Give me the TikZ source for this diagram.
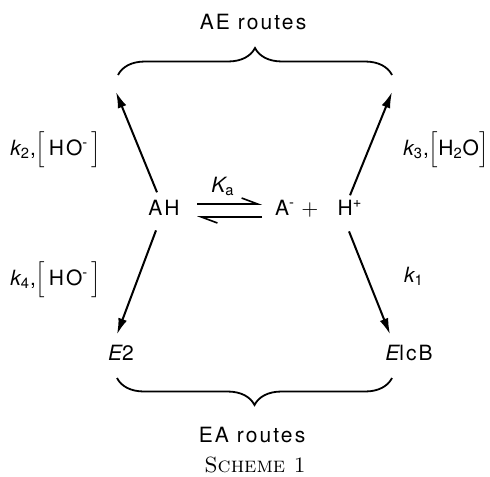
\documentclass[tikz,border=0pt]{standalone}
\usepackage{fontspec}
\newfontfamily\labelfont[LetterSpace=10]{TeX Gyre Heros}
\usetikzlibrary{arrows.meta,decorations.pathreplacing}

\newcommand{\rk}[1]{{\itshape k}\textsubscript{#1}}

\begin{document}
\begin{tikzpicture}[
  x=0.5pt, y=-0.5pt,
  chem/.style={font=\labelfont\fontsize{10.5}{12}\selectfont, inner sep=0pt, anchor=base},
  rxn/.style={line width=1pt, -{Latex[length=8pt,width=4.5pt]}},
  harpoon/.style={line width=0.8pt, -{Straight Barb[left,length=8pt,width=6pt]}},
  routes/.style={line width=0.9pt, decorate, decoration={brace, amplitude=13.5pt}},
]
\useasboundingbox (0,0) rectangle (490,476);

% --- Gleichgewicht ---
\node[chem] (AH)   at (164,215) {AH};
\node[chem] (A)    at (285,215) {A\textsuperscript{-}};
\node[chem] (plus) at (310,215) {$+$};
\node[chem] (H)    at (350,215) {H\textsuperscript{+}};
\node[chem] (Ka)   at (223,192) {{\itshape K}\textsubscript{a}};
\coordinate (eq-l) at (197,210);
\coordinate (eq-r) at (262,210);
\draw[harpoon] ([yshift=3pt]eq-l) -- ([yshift=3pt]eq-r);
\draw[harpoon] ([yshift=-3.5pt]eq-r) -- ([yshift=-3.5pt]eq-l);

% --- AE-Wege ---
\coordinate (ae-l) at (116,92);
\coordinate (ae-r) at (392,92);
\draw[routes] (118,75) -- (392,75);
\node[chem] (ae) at (253,30) {AE routes};
\draw[rxn] ([shift={(-7,-7)}]AH.north) -- (ae-l);
\draw[rxn] ([shift={(0,-4)}]H.north) -- (ae-r);
\node[chem, anchor=base west] (k2) at (10,155)  {\rk{2},$\Bigl[$\,HO\textsuperscript{-}\,$\Bigr]$};
\node[chem, anchor=base west] (k3) at (403,155) {\rk{3},$\Bigl[$H\textsubscript{2}O$\Bigr]$};

% --- EA-Wege ---
\node[chem] (E2)   at (121,360) {{\itshape E}2};
\node[chem] (ElcB) at (409,360) {{\itshape E}lcB};
\draw[rxn] ([shift={(-8,15)}]AH.south) -- ([shift={(-4,-10)}]E2.north);
\draw[rxn] ([shift={(-1,16)}]H.south) -- ([shift={(-19,-10)}]ElcB.north);
\node[chem, anchor=base west] (k4) at (10,285)  {\rk{4},$\Bigl[$\,HO\textsuperscript{-}\,$\Bigr]$};
\node[chem] (k1) at (414,282) {\rk{1}};
\draw[routes] (392,378) -- (117,378);
\node[chem] (ea) at (252,442) {EA routes};

% --- Unterschrift ---
\node[inner sep=0pt, anchor=base, font=\rmfamily\fontsize{11}{13}\selectfont] (scheme) at (255,472) {\textsc{Scheme 1}};

\end{tikzpicture}
\end{document}
